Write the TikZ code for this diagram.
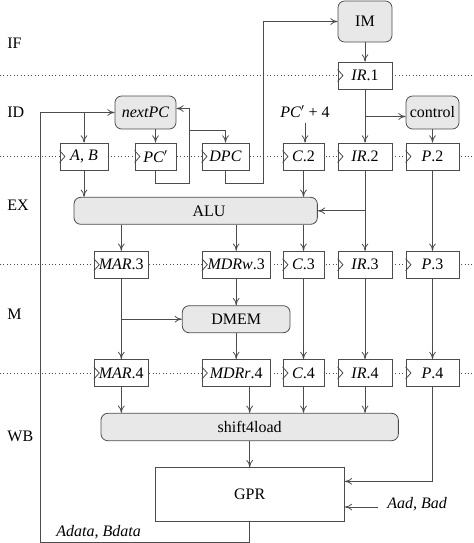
\documentclass[tikz,border=0pt]{standalone}
\usepackage{fontspec}
\setmainfont{Liberation Serif}
\usetikzlibrary{arrows.meta}
\definecolor{wiregray}{gray}{0.3}
\definecolor{unitfill}{gray}{0.91}
\tikzset{
  reg/.style={draw=wiregray, fill=white, minimum height=20.25pt, inner sep=0pt},
  unit/.style={draw=wiregray, fill=unitfill, rounded corners=5pt, minimum height=20.25pt, inner sep=0pt},
  sig/.style={draw=wiregray, -{To[length=5.5pt,width=5pt]}},
}
\begin{document}
\begin{tikzpicture}[x=0.75pt,y=0.75pt,yscale=-1,xscale=1,font=\fontsize{12}{14}\selectfont,line width=0.6pt]
        \useasboundingbox (0,0) rectangle (474,543);
        % stage borders and names
        \foreach \y in {75.5,156.5,264.7,373} \draw[wiregray, dotted] (0,\y) -- (474,\y);
        \foreach \s/\y in {IF/43,ID/112,EX/205,M/314,WB/436} \node[anchor=west, inner sep=0pt] (st\s) at (7,\y) {\s};

        \node[unit, minimum width=40.5pt, minimum height=30.75pt] (im) at (365,21.5) {IM};
        \node[reg, minimum width=40.5pt] (ir1) at (365,75.5) {\textit{IR}.1};
        \node[unit, minimum width=45.75pt, minimum height=24.75pt] (nextpc) at (145.5,112.5) {\textit{nextPC}};
        \node[unit, minimum width=39.75pt, minimum height=24.75pt] (control) at (432.5,112.5) {control};
        \node (pcfour) at (305,112) {\textit{PC}$'$ + 4};

        \node[reg, minimum width=36pt] (ab) at (84,156.5) {\textit{A}, \textit{B}};
        \node[reg, minimum width=30.75pt] (pcp) at (155.5,156.5) {\textit{PC}$'$};
        \node[reg, minimum width=35.25pt] (dpc) at (225.5,156.5) {\textit{DPC}};
        \node[reg, minimum width=30.75pt] (c2) at (303.5,156.5) {\textit{C}.2};
        \node[reg, minimum width=40.5pt] (ir2) at (365,156.5) {\textit{IR}.2};
        \node[reg, minimum width=39.75pt] (p2) at (432.5,156.5) {\textit{P}.2};

        \node[unit, minimum width=182.5pt] (alu) at (195.7,210.8) {\hspace*{20pt}ALU};

        \node[reg, minimum width=40.5pt] (mar3) at (121.3,264.7) {\textit{MAR}.3};
        \node[reg, minimum width=50.8pt] (mdrw3) at (236.2,264.7) {\textit{MDRw}.3};
        \node[reg, minimum width=30.75pt] (c3) at (303.5,264.7) {\textit{C}.3};
        \node[reg, minimum width=40.5pt] (ir3) at (365,264.7) {\textit{IR}.3};
        \node[reg, minimum width=39.75pt] (p3) at (432.5,264.7) {\textit{P}.3};

        \node[unit, minimum width=80.8pt] (dmem) at (236.2,319.2) {DMEM};

        \node[reg, minimum width=40.5pt] (mar4) at (121.3,373) {\textit{MAR}.4};
        \node[reg, minimum width=50.8pt] (mdrr4) at (236.2,373) {\textit{MDRr}.4};
        \node[reg, minimum width=30.75pt] (c4) at (303.5,373) {\textit{C}.4};
        \node[reg, minimum width=40.5pt] (ir4) at (365,373) {\textit{IR}.4};
        \node[reg, minimum width=39.75pt] (p4) at (432.5,373) {\textit{P}.4};

        \node[unit, minimum width=223pt, minimum height=20.5pt] (s4l) at (249.7,427) {shift4load};
        \node[reg, minimum width=142pt, minimum height=40.5pt] (gpr) at (249.7,494.7) {GPR};
        \node[anchor=west, inner sep=0pt] (aad) at (387,504) {\textit{Aad}, \textit{Bad}};
        \node[anchor=west, inner sep=0pt] (adata) at (56,532) {\textit{Adata}, \textit{Bdata}};

        % clock inputs
        \foreach \r in {ir1,ab,pcp,dpc,c2,ir2,p2,mar3,mdrw3,c3,ir3,p3,mar4,mdrr4,c4,ir4,p4}
          \draw[wiregray] ([yshift=4.5pt]\r.west) -- ([xshift=4pt]\r.west) -- ([yshift=-4.5pt]\r.west);

        % ID
        \coordinate (fb) at (40.7,542);
        \draw[sig] (gpr.south) |- (fb) |- (nextpc.west);
        \draw[sig] (ab.north |- nextpc.west) -- (ab.north);
        \draw[sig] (pcp.north |- nextpc.south) -- (pcp.north);
        \coordinate (pcloop) at (189,183.3);
        \draw[sig] (pcp.south) |- (pcloop) |- ([yshift=-3pt]nextpc.east);
        \coordinate (dpcin) at (189,130);
        \draw[sig] (dpcin) -| (dpc.north);
        \coordinate (imloop) at (263.3,183.3);
        \draw[sig] (dpc.south) |- (imloop) |- (im.west);
        \draw[sig] (pcfour) -- (pcfour |- c2.north);
        \draw[sig] (im) -- (ir1);
        \draw[sig] (ir1) -- (ir2);
        \coordinate (ctl) at ([yshift=3pt]control.west);
        \draw[sig] (ir1.south |- ctl) -- (ctl);
        \draw[sig] (control) -- (p2);
        % EX
        \draw[sig] (ab.south) -- (ab.south |- alu.north);
        \draw[sig] (c2.south) -- (c2.south |- alu.north);
        \draw[sig] (ir2) -- (ir3);
        \draw[sig] (ir2.south |- alu.east) -- (alu.east);
        \draw[sig] (p2) -- (p3);
        \draw[sig] (mar3.north |- alu.south) -- (mar3.north);
        \draw[sig] (mdrw3.north |- alu.south) -- (mdrw3.north);
        \draw[sig] (c3.north |- alu.south) -- (c3.north);
        % M
        \draw[sig] (mdrw3) -- (dmem);
        \draw[sig] (mar3) -- (mar4);
        \draw[sig] (mar3.south |- dmem.west) -- (dmem.west);
        \draw[sig] (dmem) -- (mdrr4);
        \draw[sig] (c3) -- (c4);
        \draw[sig] (ir3) -- (ir4);
        \draw[sig] (p3) -- (p4);
        % WB
        \draw[sig] (mar4.south) -- (mar4.south |- s4l.north);
        \draw[sig] (s4l.north |- mdrr4.south) -- (s4l.north);
        \draw[sig] (c4.south) -- (c4.south |- s4l.north);
        \draw[sig] (ir4.south) -- (ir4.south |- s4l.north);
        \draw[sig] (s4l) -- (gpr);
        \draw[sig] (p4.south) |- ([yshift=-10pt]gpr.east);
        \coordinate (aadin) at (378,507);
        \draw[sig] (aadin) -- (aadin -| gpr.east);
    \end{tikzpicture}
\end{document}
